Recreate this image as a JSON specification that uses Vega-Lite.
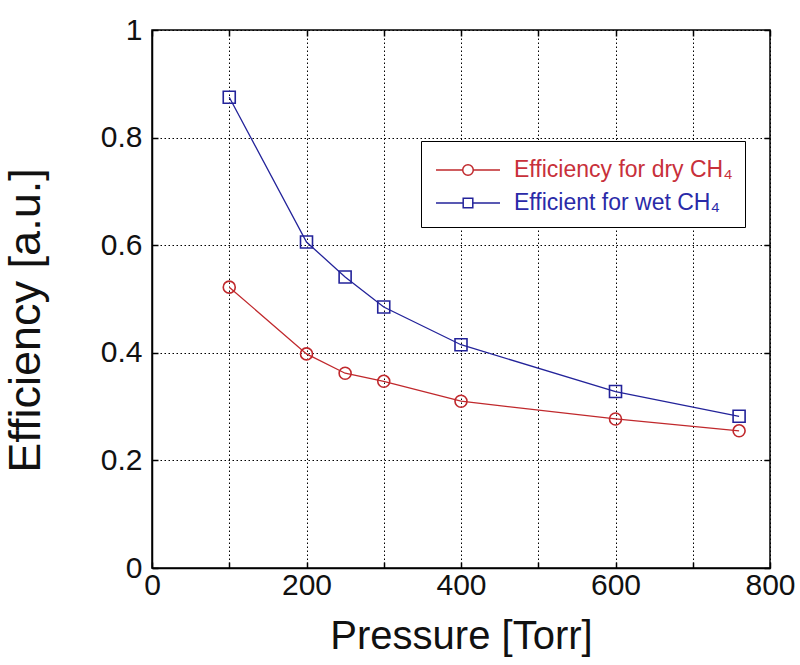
{
  "$schema": "https://vega.github.io/schema/vega-lite/v6.json",
  "width": 618,
  "height": 538,
  "autosize": {"type": "none"},
  "padding": {"left": 152, "top": 30, "right": 30, "bottom": 97},
  "background": "white",
  "config": {
    "font": "Liberation Sans",
    "view": {"stroke": "black", "strokeWidth": 1.5},
    "axis": {
      "labelFont": "Liberation Sans",
      "titleFont": "Liberation Sans",
      "labelColor": "#111",
      "titleColor": "#111",
      "labelFontSize": 30,
      "titleFontWeight": "normal",
      "domainColor": "black",
      "domainWidth": 1.5,
      "tickColor": "black",
      "tickWidth": 1.5,
      "gridColor": "black",
      "gridDash": [1.5, 2.5],
      "gridWidth": 1,
      "gridOpacity": 1
    }
  },
  "resolve": {"axis": {"x": "independent", "y": "independent"}},
  "data": {
    "values": [
      {"p": 100, "eff": 0.522, "series": "dry"},
      {"p": 200, "eff": 0.398, "series": "dry"},
      {"p": 250, "eff": 0.362, "series": "dry"},
      {"p": 300, "eff": 0.347, "series": "dry"},
      {"p": 400, "eff": 0.31, "series": "dry"},
      {"p": 600, "eff": 0.277, "series": "dry"},
      {"p": 760, "eff": 0.255, "series": "dry"},
      {"p": 100, "eff": 0.875, "series": "wet"},
      {"p": 200, "eff": 0.606, "series": "wet"},
      {"p": 250, "eff": 0.541, "series": "wet"},
      {"p": 300, "eff": 0.485, "series": "wet"},
      {"p": 400, "eff": 0.415, "series": "wet"},
      {"p": 600, "eff": 0.328, "series": "wet"},
      {"p": 760, "eff": 0.282, "series": "wet"}
    ]
  },
  "layer": [
    {
      "mark": {"type": "line", "strokeWidth": 1.3},
      "encoding": {
        "x": {
          "field": "p",
          "type": "quantitative",
          "scale": {"domain": [0, 800], "nice": false},
          "axis": {
            "title": "Pressure [Torr]",
            "titleFontSize": 40,
            "values": [0, 100, 200, 300, 400, 500, 600, 700, 800],
            "labelExpr": "datum.value % 200 === 0 ? datum.label : ''",
            "grid": true,
            "tickSize": -6,
            "labelPadding": 8,
            "titlePadding": 16,
            "labelFlush": false,
            "labelOverlap": false
          }
        },
        "y": {
          "field": "eff",
          "type": "quantitative",
          "scale": {"domain": [0, 1], "nice": false},
          "axis": {
            "title": "Efficiency [a.u.]",
            "titleFontSize": 45,
            "titleY": 290,
            "values": [0, 0.2, 0.4, 0.6, 0.8, 1],
            "format": "~g",
            "grid": true,
            "tickSize": -6,
            "labelPadding": 16,
            "titlePadding": 52,
            "labelFlush": false,
            "labelOverlap": false
          }
        },
        "color": {
          "field": "series",
          "type": "nominal",
          "scale": {"domain": ["dry", "wet"], "range": ["#c0282c", "#23239a"]},
          "legend": {
            "title": null,
            "orient": "none",
            "legendX": 269,
            "legendY": 111,
            "strokeColor": "black",
            "fillColor": "white",
            "padding": 12,
            "symbolSize": 1024,
            "symbolOffset": 18,
            "symbolStrokeWidth": 1.5,
            "labelOffset": 29,
            "rowPadding": 4,
            "labelFont": "Liberation Sans",
            "labelFontSize": 23,
            "labelExpr": "datum.value === 'dry' ? 'Efficiency for dry CH₄' : 'Efficient for wet CH₄'",
            "labelLimit": 400,
            "encode": {
              "symbols": {
                "update": {
                  "shape": {"signal": "datum.value === 'dry' ? 'M-2,0H-0.33M0.33,0H2M-0.33,0A0.33,0.33 0 1 0 0.33,0A0.33,0.33 0 1 0 -0.33,0' : 'M-2,0H-0.3M0.3,0H2M-0.3,-0.3H0.3V0.3H-0.3Z'"},
                  "stroke": {"signal": "datum.value === 'dry' ? '#c0282c' : '#23239a'"},
                  "fill": {"value": "transparent"}
                }
              },
              "labels": {
                "update": {
                  "fill": {"signal": "datum.value === 'dry' ? '#c8303a' : '#2a2aa8'"}
                }
              }
            }
          }
        }
      }
    },
    {
      "transform": [{"filter": "datum.series === 'dry'"}],
      "mark": {"type": "point", "shape": "circle", "filled": false, "size": 144, "strokeWidth": 1.6, "opacity": 1, "color": "#c0282c"},
      "encoding": {
        "x": {"field": "p", "type": "quantitative", "axis": null},
        "y": {"field": "eff", "type": "quantitative", "axis": null}
      }
    },
    {
      "transform": [{"filter": "datum.series === 'wet'"}],
      "mark": {"type": "point", "shape": "square", "filled": false, "size": 144, "strokeWidth": 1.6, "opacity": 1, "color": "#23239a"},
      "encoding": {
        "x": {"field": "p", "type": "quantitative", "axis": null},
        "y": {"field": "eff", "type": "quantitative", "axis": null}
      }
    },
    {
      "mark": {"type": "point", "opacity": 0},
      "encoding": {
        "x": {
          "field": "p",
          "type": "quantitative",
          "axis": {"orient": "top", "values": [0, 100, 200, 300, 400, 500, 600, 700, 800], "labels": false, "title": null, "grid": false, "tickSize": -6, "domain": false}
        },
        "y": {
          "field": "eff",
          "type": "quantitative",
          "axis": {"orient": "right", "values": [0, 0.2, 0.4, 0.6, 0.8, 1], "labels": false, "title": null, "grid": false, "tickSize": -6, "domain": false}
        }
      }
    }
  ]
}
